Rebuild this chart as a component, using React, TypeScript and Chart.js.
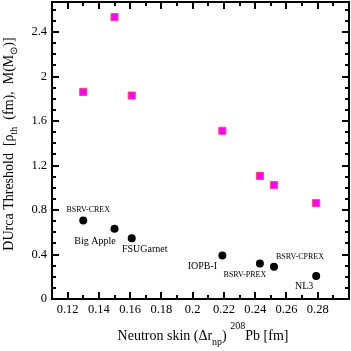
import React, { useEffect, useRef } from 'react';
import { Chart, registerables } from 'chart.js';

Chart.register(...registerables);

// ---- data ----
const modelNames = ['BSRV-CREX', 'Big Apple', 'FSUGarnet', 'IOPB-I', 'BSRV-PREX', 'BSRV-CPREX', 'NL3'];
const neutronSkin = [0.130, 0.150, 0.161, 0.219, 0.243, 0.252, 0.279];
const rhoThreshold = [0.706, 0.631, 0.547, 0.391, 0.319, 0.289, 0.206];
const massThreshold = [1.862, 2.534, 1.829, 1.512, 1.107, 1.024, 0.862];

const xTickLabels = [0.12, 0.14, 0.16, 0.18, 0.2, 0.22, 0.24, 0.26, 0.28];
const yTickLabels = [0, 0.4, 0.8, 1.2, 1.6, 2, 2.4];
const xMinorTicks = [0.13, 0.15, 0.17, 0.19, 0.21, 0.23, 0.25, 0.27, 0.29];
const yMinorTicks = [0.1, 0.2, 0.3, 0.5, 0.6, 0.7, 0.9, 1.0, 1.1, 1.3, 1.4, 1.5, 1.7, 1.8, 1.9, 2.1, 2.2, 2.3, 2.5, 2.6];

// ---- label placement / styles (not data) ----
const labelOffsets: [number, number][] = [[5, -8], [-19.5, 15], [13, 14], [-20, 13], [-15, 13], [26, -7.5], [-12, 13]];
const labelSizes = [8, 10, 10, 10, 8, 8, 10];

const SERIF = "'Liberation Serif', 'Times New Roman', serif";

type Seg = { t: string; size: number; dy: number };

function segWidth(ctx: CanvasRenderingContext2D, segs: Seg[]) {
  let w = 0;
  for (const s of segs) {
    ctx.font = `${s.size}px ${SERIF}`;
    w += ctx.measureText(s.t).width;
  }
  return w;
}

function drawSegs(ctx: CanvasRenderingContext2D, segs: Seg[], x: number, y: number) {
  let cx = x;
  for (const s of segs) {
    ctx.font = `${s.size}px ${SERIF}`;
    ctx.fillText(s.t, cx, y + s.dy);
    cx += ctx.measureText(s.t).width;
  }
}

const xTitle: Seg[] = [
  { t: 'Neutron skin (\u0394r', size: 14, dy: 0 },
  { t: 'np', size: 10, dy: 5 },
  { t: ') ', size: 14, dy: 0 },
  { t: '208', size: 10, dy: -11 },
  { t: 'Pb [fm]', size: 14, dy: 0 },
];

const yTitle: Seg[] = [
  { t: 'DUrca Threshold  [\u03C1', size: 14, dy: 0 },
  { t: 'th', size: 10, dy: 4 },
  { t: '  (fm),  M(M', size: 14, dy: 0 },
  { t: '\u2299', size: 10, dy: 4 },
  { t: ')]', size: 14, dy: 0 },
];

const decorPlugin = {
  id: 'decor',
  afterDraw(chart: any) {
    const ctx: CanvasRenderingContext2D = chart.ctx;
    const { left, right, top, bottom } = chart.chartArea;
    const xs = chart.scales.x;
    const ys = chart.scales.y;
    ctx.save();
    ctx.strokeStyle = '#000';
    ctx.lineWidth = 2;
    ctx.strokeRect(left, top, right - left, bottom - top);
    const drawX = (vals: number[], len: number) => {
      for (const v of vals) {
        const p = Math.round(xs.getPixelForValue(v));
        ctx.beginPath();
        ctx.moveTo(p, bottom);
        ctx.lineTo(p, bottom - len);
        ctx.moveTo(p, top);
        ctx.lineTo(p, top + len);
        ctx.stroke();
      }
    };
    const drawY = (vals: number[], len: number) => {
      for (const v of vals) {
        const p = Math.round(ys.getPixelForValue(v));
        ctx.beginPath();
        ctx.moveTo(left, p);
        ctx.lineTo(left + len, p);
        ctx.moveTo(right, p);
        ctx.lineTo(right - len, p);
        ctx.stroke();
      }
    };
    drawX(xTickLabels, 7);
    drawX(xMinorTicks, 4);
    drawY(yTickLabels, 7);
    drawY(yMinorTicks, 4);

    // point labels
    ctx.fillStyle = '#000';
    ctx.textAlign = 'center';
    ctx.textBaseline = 'alphabetic';
    modelNames.forEach((name, i) => {
      const px = xs.getPixelForValue(neutronSkin[i]);
      const py = ys.getPixelForValue(rhoThreshold[i]);
      ctx.font = `${labelSizes[i]}px ${SERIF}`;
      ctx.fillText(name, px + labelOffsets[i][0], py + labelOffsets[i][1]);
    });

    // axis titles
    ctx.textAlign = 'left';
    const wx = segWidth(ctx, xTitle);
    drawSegs(ctx, xTitle, 203 - wx / 2, 339.5);

    const wy = segWidth(ctx, yTitle);
    ctx.translate(12.7, 144);
    ctx.rotate(-Math.PI / 2);
    drawSegs(ctx, yTitle, -wy / 2, 0);
    ctx.restore();
  },
};

export default function App() {
  const ref = useRef<HTMLCanvasElement>(null);
  useEffect(() => {
    if (!ref.current) return;
    const chart = new Chart(ref.current, {
      type: 'scatter',
      data: {
        datasets: [
          {
            label: 'M',
            data: neutronSkin.map((x, i) => ({ x, y: massThreshold[i] })),
            pointStyle: 'rect',
            pointRadius: 5,
            backgroundColor: '#ff00ff',
            borderColor: '#ff4070',
            borderWidth: 1,
          },
          {
            label: 'rho',
            data: neutronSkin.map((x, i) => ({ x, y: rhoThreshold[i] })),
            pointStyle: 'circle',
            pointRadius: 4,
            backgroundColor: '#000',
            borderColor: '#000',
            borderWidth: 0,
          },
        ],
      },
      options: {
        responsive: false,
        animation: false,
        layout: { autoPadding: false, padding: { top: 2, right: 2, left: 0, bottom: 0 } },
        plugins: { legend: { display: false }, tooltip: { enabled: false } },
        scales: {
          x: {
            type: 'linear',
            min: 0.11,
            max: 0.3,
            grid: { display: false, drawTicks: false },
            border: { display: false },
            afterBuildTicks: (s: any) => { s.ticks = xTickLabels.map((v) => ({ value: v })); },
            afterFit: (s: any) => { s.height = 52; s.paddingLeft = 0; s.paddingRight = 0; },
            ticks: {
              padding: 3,
              maxRotation: 0,
              autoSkip: false,
              color: '#000',
              font: { family: SERIF, size: 12.5 },
              callback: (v: any) => String(v),
            },
          },
          y: {
            type: 'linear',
            min: 0,
            max: 2.67,
            grid: { display: false, drawTicks: false },
            border: { display: false },
            afterBuildTicks: (s: any) => { s.ticks = yTickLabels.map((v) => ({ value: v })); },
            afterFit: (s: any) => { s.width = 52; s.paddingTop = 0; s.paddingBottom = 0; },
            ticks: {
              padding: 5,
              autoSkip: false,
              color: '#000',
              font: { family: SERIF, size: 12.5 },
              callback: (v: any) => String(v),
            },
          },
        },
      },
      plugins: [decorPlugin],
    });
    return () => chart.destroy();
  }, []);
  return (
    <div style={{ position: 'absolute', left: 0, top: 0, width: 351, height: 351, background: '#fff' }}>
      <canvas ref={ref} width={351} height={351} style={{ width: 351, height: 351 }} />
    </div>
  );
}
